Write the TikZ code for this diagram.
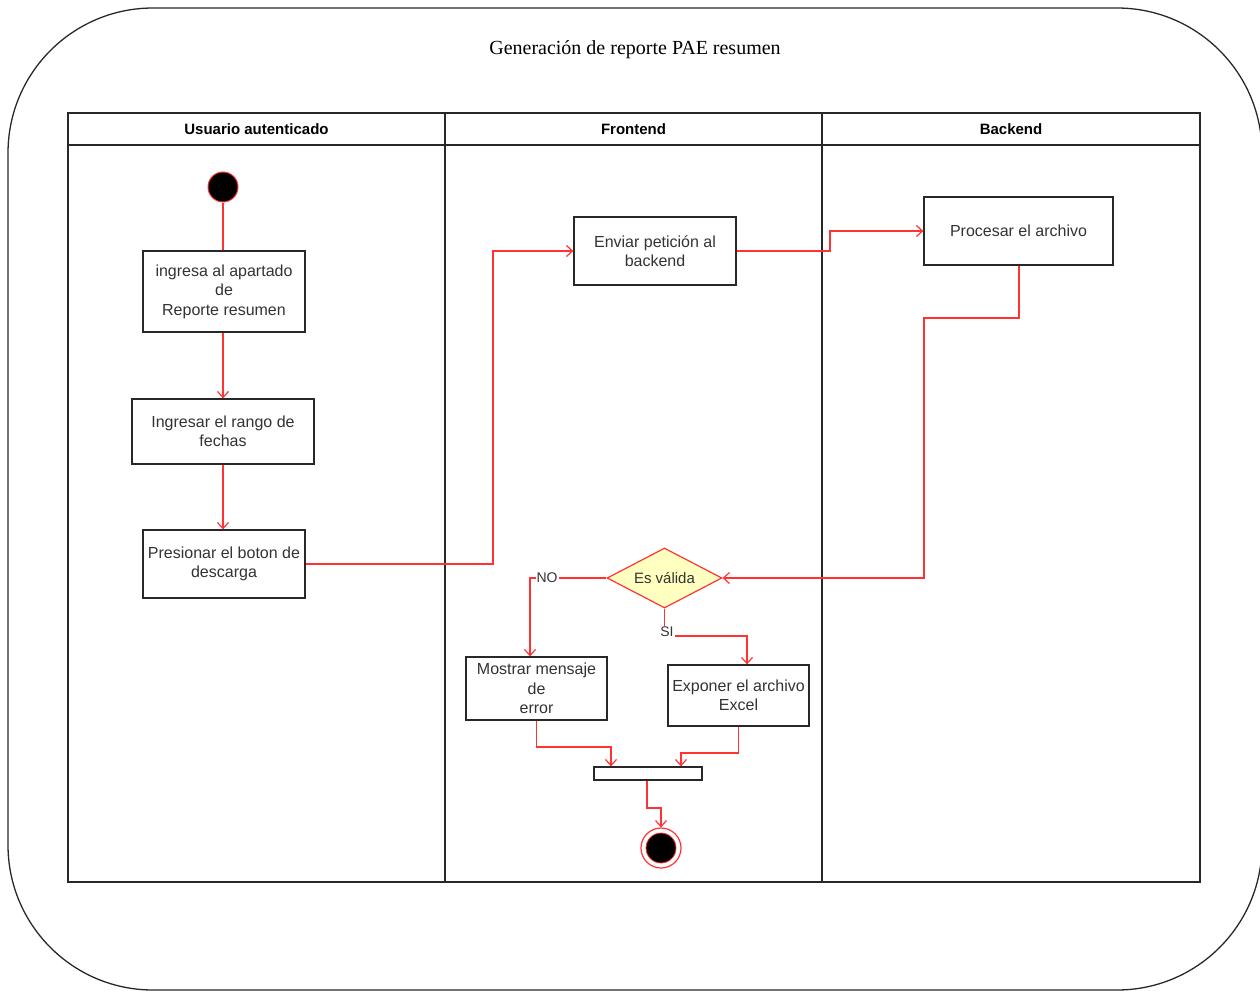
\documentclass[tikz,border=0pt]{standalone}
\usepackage{fontspec}
\setmainfont{Liberation Sans}
\newfontfamily\titlefont{Liberation Serif}
\usetikzlibrary{arrows.meta,shapes.geometric}
\definecolor{flow}{RGB}{255,51,51}
\definecolor{edge}{RGB}{40,40,40}
\definecolor{decfill}{RGB}{255,255,192}
\tikzset{
  act/.style={draw=edge, line width=1.3pt, fill=white, inner sep=2pt, align=center, font=\fontsize{16}{19.5}\selectfont, text=black!80},
  conn/.style={draw=flow, line width=1.2pt, -{Straight Barb[length=6pt,width=11pt,line width=1.2pt]}},
  plainconn/.style={draw=flow, line width=1.2pt},
  lane/.style={draw=edge, line width=1.3pt},
  lbl/.style={fill=white, inner sep=1pt, font=\fontsize{14}{16}\selectfont, text=black!80},
}
\begin{document}
\begin{tikzpicture}[x=1pt,y=-1pt]
\useasboundingbox (0,0) rectangle (1260,990);
% outer frame
\draw[edge, line width=1.3pt, rounded corners=145pt] (8,8) rectangle (1262,990);
\node[font=\titlefont\fontsize{20}{22}\selectfont] (title) at (635,50) {Generación de reporte PAE resumen};
% swimlanes
\draw[lane] (68,113) rectangle (1200,882);
\draw[lane] (68,145) -- (1200,145);
\draw[lane] (445,113) -- (445,882);
\draw[lane] (822,113) -- (822,882);
\node[font=\bfseries\fontsize{15}{18}\selectfont] (h1) at (256.5,129) {Usuario autenticado};
\node[font=\bfseries\fontsize{15}{18}\selectfont] (h2) at (633.5,129) {Frontend};
\node[font=\bfseries\fontsize{15}{18}\selectfont] (h3) at (1011,129) {Backend};
% nodes
\node[circle, fill=black, draw=flow, line width=1pt, minimum size=30pt, inner sep=0pt] (start) at (223,187) {};
\node[act, minimum width=162pt, minimum height=81pt] (b1) at (224,291.5) {ingresa al apartado\\de\\Reporte resumen};
\node[act, minimum width=182pt, minimum height=65pt] (b2) at (223,431.5) {Ingresar el rango de\\fechas};
\node[act, minimum width=162pt, minimum height=68pt] (b3) at (224,564) {Presionar el boton de\\descarga};
\node[act, minimum width=162pt, minimum height=68pt] (b4) at (655,251) {Enviar petición al\\backend};
\node[act, minimum width=189pt, minimum height=68pt] (b5) at (1018.5,231) {Procesar el archivo};
\node[diamond, draw=flow, fill=decfill, line width=1.2pt, minimum width=115pt, minimum height=60pt, inner sep=0pt, aspect=1.9, font=\fontsize{15}{18}\selectfont, text=black!80] (dec) at (664.5,578) {Es válida};
\node[act, minimum width=141pt, minimum height=63pt] (b6) at (536.5,688.5) {Mostrar mensaje\\de\\error};
\node[act, minimum width=141pt, minimum height=61pt] (b7) at (738.5,695.5) {Exponer el archivo\\Excel};
\node[draw=edge, line width=1.3pt, fill=white, minimum width=108pt, minimum height=13pt, inner sep=0pt] (bar) at (648,773.5) {};
\node[circle, draw=flow, line width=1.2pt, fill=white, minimum size=40pt, inner sep=0pt] (endo) at (661,848) {};
\node[circle, fill=black, draw=flow, line width=0.8pt, minimum size=30pt, inner sep=0pt] (endi) at (661,848) {};
% connectors
\coordinate (c1) at (493,564);
\coordinate (c2) at (493,251);
\coordinate (c3) at (830,251);
\coordinate (c4) at (830,231);
\coordinate (c5) at (1019,318);
\coordinate (c6) at (924,318);
\coordinate (c7) at (924,578);
\coordinate (c8) at (530,578);
\coordinate (c9) at (664.5,636);
\coordinate (c10) at (747,636);
\coordinate (c11) at (536.5,747);
\coordinate (c12) at (611,747);
\coordinate (c13) at (738.5,753);
\coordinate (c14) at (681,753);
\coordinate (c15) at (647,808);
\coordinate (c16) at (661,808);
\draw[plainconn] (start.south) -- (start.south |- b1.north);
\draw[conn] (b1.south -| start) -- (b2.north -| start);
\draw[conn] (b2.south -| start) -- (b3.north -| start);
\draw[conn] (b3.east) -- (c1) -- (c2) -- (b4.west);
\draw[conn] (b4.east) -- (c3) -- (c4) -- (b5.west);
\draw[conn] (b5.south -| c5) -- (c5) -- (c6) -- (c7) -- (dec.east);
\draw[conn] (dec.west) -- (c8) -- (c8 |- b6.north);
\node[lbl] (no) at (547,578) {NO};
\draw[conn] (dec.south) -- (c9) -- (c10) -- (c10 |- b7.north);
\node[lbl] (si) at (667,632) {SI};
\draw[conn] (b6.south) -- (c11) -- (c12) -- (c12 |- bar.north);
\draw[conn] (b7.south) -- (c13) -- (c14) -- (c14 |- bar.north);
\draw[conn] (bar.south -| c15) -- (c15) -- (c16) -- (endo.north);
\end{tikzpicture}
\end{document}
